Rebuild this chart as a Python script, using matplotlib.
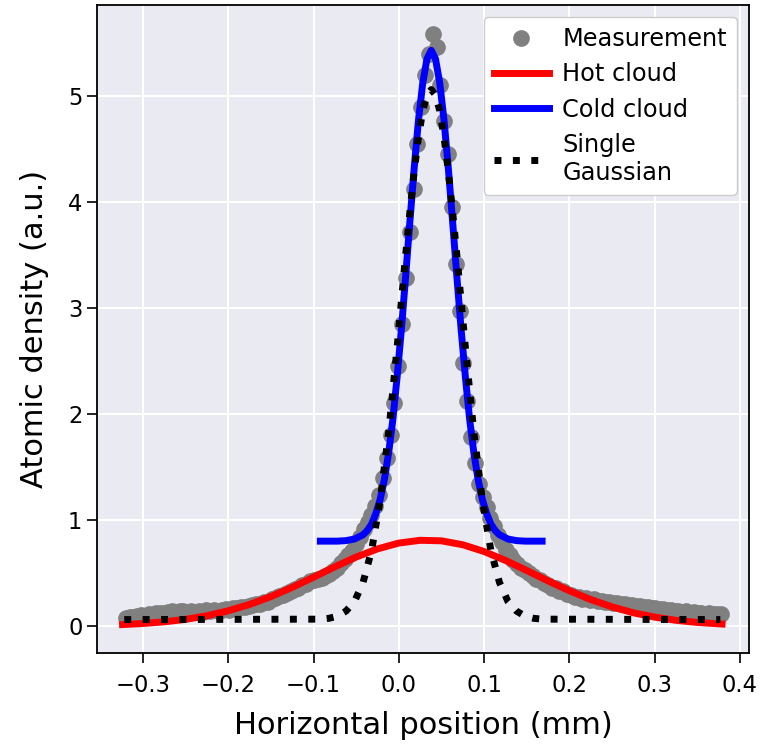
import matplotlib
matplotlib.use("Agg")

import matplotlib.pyplot as plt
import numpy as np

# ── data ─────────────────────────────────────────────────────────────────────
# measurement: evenly spaced camera pixels
meas_x = np.linspace(-0.3202, 0.3773, 156)
meas_y = [
    0.075, 0.085, 0.080, 0.095, 0.100, 0.095, 0.110, 0.105, 0.120, 0.125,
    0.120, 0.135, 0.140, 0.130, 0.145, 0.140, 0.130, 0.140, 0.135, 0.145,
    0.135, 0.150, 0.145, 0.155, 0.145, 0.150, 0.160, 0.150, 0.165, 0.170,
    0.180, 0.175, 0.190, 0.195, 0.205, 0.210, 0.225, 0.230, 0.250, 0.260,
    0.280, 0.290, 0.315, 0.325, 0.350, 0.360, 0.385, 0.395, 0.420, 0.430,
    0.445, 0.450, 0.475, 0.490, 0.520, 0.550, 0.590, 0.630, 0.670, 0.710,
    0.770, 0.840, 0.910, 0.980, 1.050, 1.130, 1.240, 1.400, 1.580, 1.800,
    2.100, 2.450, 2.850, 3.280, 3.720, 4.120, 4.550, 4.900, 5.200, 5.400,
    5.580, 5.460, 5.100, 4.760, 4.450, 3.950, 3.410, 2.970, 2.480, 2.120,
    1.780, 1.540, 1.340, 1.220, 1.120, 1.020, 0.940, 0.860, 0.790, 0.720,
    0.670, 0.620, 0.585, 0.550, 0.525, 0.495, 0.475, 0.445, 0.435, 0.405,
    0.385, 0.360, 0.355, 0.330, 0.325, 0.305, 0.295, 0.275, 0.275, 0.255,
    0.260, 0.245, 0.250, 0.235, 0.240, 0.225, 0.230, 0.215, 0.220, 0.205,
    0.210, 0.195, 0.200, 0.185, 0.190, 0.175, 0.180, 0.165, 0.170, 0.160,
    0.160, 0.150, 0.155, 0.140, 0.145, 0.130, 0.140, 0.125, 0.130, 0.120,
    0.125, 0.115, 0.120, 0.110, 0.115, 0.110,
]

# hot cloud fit
hot_x = [-0.324, -0.300, -0.275, -0.250, -0.225, -0.200, -0.175, -0.150,
         -0.125, -0.100, -0.075, -0.050, -0.025, 0.000, 0.025, 0.050,
         0.075, 0.100, 0.125, 0.150, 0.175, 0.200, 0.225, 0.250, 0.275,
         0.300, 0.325, 0.350, 0.379]
hot_y = [0.013, 0.023, 0.039, 0.062, 0.096, 0.143, 0.203, 0.277,
         0.364, 0.460, 0.558, 0.650, 0.727, 0.782, 0.808, 0.803,
         0.766, 0.702, 0.618, 0.523, 0.425, 0.332, 0.249, 0.180, 0.124,
         0.083, 0.053, 0.033, 0.018]

# cold cloud fit
cold_x = [-0.092, -0.072, -0.062, -0.052, -0.042, -0.037, -0.032, -0.027,
          -0.022, -0.017, -0.012, -0.007, -0.002, 0.003, 0.008, 0.013,
          0.018, 0.023, 0.028, 0.033, 0.038, 0.043, 0.048, 0.053, 0.058,
          0.063, 0.068, 0.073, 0.078, 0.083, 0.088, 0.093, 0.098, 0.103,
          0.108, 0.113, 0.118, 0.128, 0.138, 0.148, 0.168]
cold_y = [0.80, 0.80, 0.805, 0.82, 0.86, 0.90, 0.96, 1.06,
          1.19, 1.38, 1.63, 1.95, 2.35, 2.80, 3.30, 3.82,
          4.32, 4.77, 5.12, 5.35, 5.43, 5.35, 5.12, 4.77, 4.32,
          3.82, 3.30, 2.80, 2.35, 1.95, 1.63, 1.38, 1.19, 1.06,
          0.96, 0.90, 0.86, 0.82, 0.805, 0.80, 0.80]

# single gaussian fit
single_x = [-0.322, -0.092, -0.082, -0.072, -0.062, -0.052, -0.042, -0.032,
            -0.022, -0.012, -0.002, 0.008, 0.013, 0.018, 0.023, 0.028,
            0.033, 0.038, 0.043, 0.048, 0.053, 0.058, 0.063, 0.068,
            0.078, 0.088, 0.098, 0.108, 0.118, 0.128, 0.138, 0.148,
            0.158, 0.168, 0.377]
single_y = [0.060, 0.064, 0.072, 0.092, 0.14, 0.23, 0.41, 0.71,
            1.18, 1.82, 2.63, 3.50, 3.91, 4.29, 4.61, 4.86,
            5.01, 5.06, 5.01, 4.86, 4.61, 4.29, 3.91, 3.50,
            2.63, 1.82, 1.18, 0.71, 0.41, 0.23, 0.14, 0.092,
            0.072, 0.064, 0.060]

x_ticks = [-0.3, -0.2, -0.1, 0.0, 0.1, 0.2, 0.3, 0.4]
y_ticks = [0, 1, 2, 3, 4, 5]

# ── figure ───────────────────────────────────────────────────────────────────
fig = plt.figure(figsize=(7.6, 7.46), dpi=100)
ax = fig.add_axes([0.1276, 0.1247, 0.8579, 0.8686])
ax.set_facecolor("#EAEAF2")
ax.grid(True, color="white", linewidth=1.5)
ax.set_axisbelow(True)
for sp in ax.spines.values():
    sp.set_color("black")
    sp.set_linewidth(1.3)

ax.plot(meas_x, meas_y, "o", color="gray", markersize=11, label="Measurement")
ax.plot(hot_x, hot_y, color="red", linewidth=5, label="Hot cloud")
ax.plot(cold_x, cold_y, color="blue", linewidth=5, label="Cold cloud")
ax.plot(single_x, single_y, color="black", linewidth=5, linestyle=":",
        label="Single\nGaussian")

ax.set_xlim(-0.354, 0.4106)
ax.set_ylim(-0.255, 5.858)
ax.set_xticks(x_ticks)
ax.set_yticks(y_ticks)
ax.set_xticklabels([f"{v:.1f}" if v >= 0 else f"\u2212{abs(v):.1f}" for v in x_ticks])
ax.tick_params(labelsize=16.3, length=7, width=1.2, color="black")
ax.tick_params(axis="x", pad=8)

ax.set_xlabel("Horizontal position (mm)", fontsize=22, labelpad=10)
ax.set_ylabel("Atomic density (a.u.)", fontsize=22, labelpad=14)

ax.legend(loc="upper right", fontsize=17.3, labelspacing=0.47,
          handlelength=2.3, handletextpad=0.55, borderpad=0.42,
          framealpha=1.0, edgecolor="#cccccc")

plt.savefig("out.png", dpi=100)
plt.close()
